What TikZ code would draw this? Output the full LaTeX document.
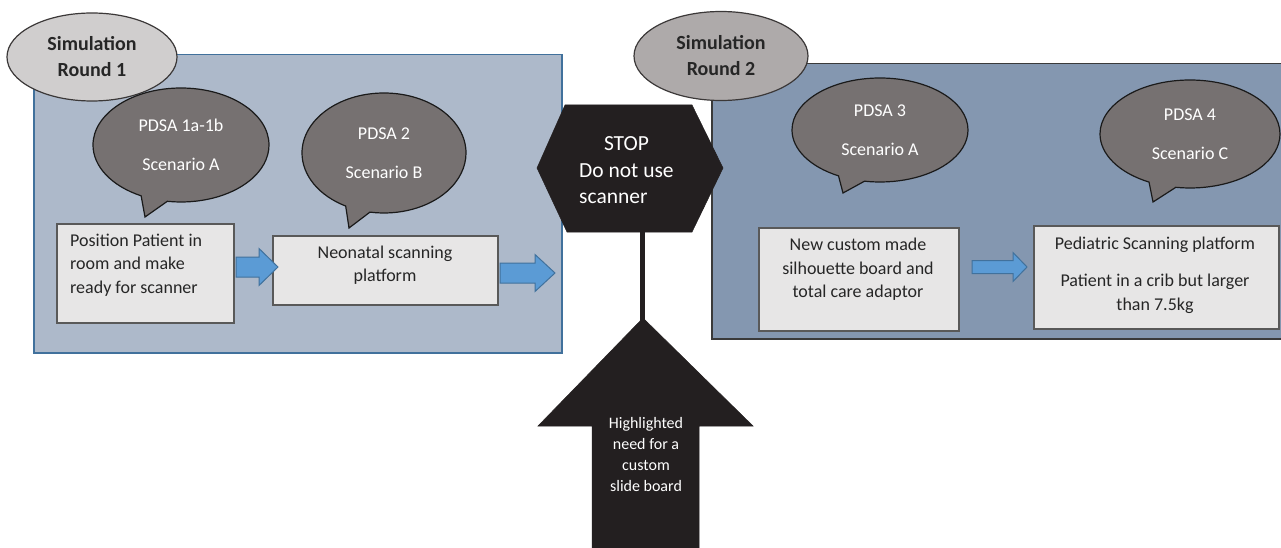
\documentclass[tikz,border=0pt]{standalone}
\usepackage{fontspec}
\setmainfont{Carlito}
\usetikzlibrary{shapes.geometric,shapes.callouts,calc}
\definecolor{panelAfill}{HTML}{ADB9CA}
\definecolor{panelAline}{HTML}{41719C}
\definecolor{panelBfill}{HTML}{8497B0}
\definecolor{panelBline}{HTML}{3A3A3A}
\definecolor{roundAfill}{HTML}{D0CECE}
\definecolor{roundBfill}{HTML}{AEAAAA}
\definecolor{roundline}{HTML}{3B3838}
\definecolor{bubblefill}{HTML}{767171}
\definecolor{bubbleline}{HTML}{1A1A1A}
\definecolor{boxfill}{HTML}{E7E6E6}
\definecolor{boxline}{HTML}{595959}
\definecolor{arrfill}{HTML}{5B9BD5}
\definecolor{arrline}{HTML}{41719C}
\definecolor{stopblack}{HTML}{231F20}
\definecolor{darktext}{HTML}{262626}
\newcommand\blockarr[5]{%
  \draw[bluearrow] let \p1=(#1), \p2=(#2) in
    (\x1,\y1+#3) -- (\x2-#5,\y1+#3) -- (\x2-#5,\y1+#4) -- (\x2,\y1)
    -- (\x2-#5,\y1-#4) -- (\x2-#5,\y1-#3) -- (\x1,\y1-#3) -- cycle;}
\tikzset{
  panelA/.style={rectangle, fill=panelAfill, draw=panelAline, line width=1.5pt, inner sep=0pt},
  panelB/.style={rectangle, fill=panelBfill, draw=panelBline, line width=1.5pt, inner sep=0pt},
  roundtitle/.style={ellipse, draw=roundline, line width=1.2pt, inner sep=0pt, align=center,
    text=darktext, font=\bfseries\fontsize{20}{26}\selectfont},
  bubble/.style={ellipse callout, fill=bubblefill, draw=bubbleline, line width=1.2pt, inner sep=0pt,
    callout pointer arc=18, align=center, text=white, font=\fontsize{18}{22}\selectfont},
  boxnode/.style={rectangle, fill=boxfill, draw=boxline, line width=1.5pt, inner sep=0pt},
  boxtext/.style={inner sep=0pt, text=darktext, font=\fontsize{18}{23.5}\selectfont},
  bluearrow/.style={fill=arrfill, draw=arrline, line width=1pt},
  blackshape/.style={fill=stopblack, draw=stopblack, line width=0.5pt},
  whitetext/.style={inner sep=0pt, text=white},
  pole/.style={draw=stopblack, line width=5pt}
}
\begin{document}
\begin{tikzpicture}[x=1pt,y=-1pt]
\useasboundingbox[fill=white] (0,0) rectangle (1281,548);

% panels
\node[panelA, anchor=north west, minimum width=528pt, minimum height=298pt] (p1) at (33,54) {};
\node[panelB, anchor=north west, minimum width=590pt, minimum height=275pt] (p2) at (711,63) {};

% round titles
\node[roundtitle, fill=roundAfill, minimum width=170pt, minimum height=88pt] (r1) at (92,57) {Simulation\\Round 1};
\node[roundtitle, fill=roundBfill, minimum width=174pt, minimum height=89pt] (r2) at (721,56) {Simulation\\Round 2};

% speech bubbles
\node[bubble, minimum width=176pt, minimum height=114pt, callout absolute pointer={(145,217)}] (b1) at (181,145) {PDSA 1a-1b\\[17pt]Scenario A};
\node[bubble, minimum width=164pt, minimum height=120pt, callout absolute pointer={(349,228)}] (b2) at (384,153) {PDSA 2\\[17pt]Scenario B};
\node[bubble, minimum width=176pt, minimum height=104pt, callout absolute pointer={(843,193)}] (b3) at (880,130) {PDSA 3\\[17pt]Scenario A};
\node[bubble, minimum width=180pt, minimum height=108pt, callout absolute pointer={(1153,202)}] (b4) at (1190,134) {PDSA 4\\[17pt]Scenario C};

% boxes
\node[boxnode, anchor=north west, minimum width=177pt, minimum height=99pt] (box1) at (56,223) {};
\node[boxtext, align=left, anchor=west] (t1) at (70,265) {Position Patient in\\room and make\\ready for scanner};
\node[boxnode, anchor=north west, minimum width=225pt, minimum height=69pt] (box2) at (272,235) {};
\node[boxtext, align=center] (t2) at (385,265) {Neonatal scanning\\platform};
\node[boxnode, anchor=north west, minimum width=200pt, minimum height=103pt] (box3) at (758,227) {};
\node[boxtext, align=center] (t3) at (858,269.5) {New custom made\\silhouette board and\\total care adaptor};
\node[boxnode, anchor=north west, minimum width=245pt, minimum height=103pt] (box4) at (1033,225) {};
\node[boxtext, align=center] (t4) at (1155,275) {Pediatric Scanning platform\\[14pt]Patient in a crib but larger\\than 7.5kg};

% blue block arrows
\coordinate (a1s) at (236,267); \coordinate (a1e) at (278,267);
\blockarr{a1s}{a1e}{10pt}{18.5pt}{19pt}
\coordinate (a2s) at (500,273); \coordinate (a2e) at (555,273);
\blockarr{a2s}{a2e}{10pt}{18.5pt}{20pt}
\coordinate (a3s) at (972,267); \coordinate (a3e) at (1027,267);
\blockarr{a3s}{a3e}{6.5pt}{14.5pt}{14pt}

% stop sign
\draw[blackshape] (565,105) -- (692,105) -- (723,168) -- (692,232) -- (567,232) -- (537,168) -- cycle;
\node[whitetext, anchor=west, font=\fontsize{21.5}{26.5}\selectfont] (stop) at (579,172)
  {\begin{tabular}{@{}l@{}}\multicolumn{1}{@{}c@{}}{STOP}\\Do not use\\scanner\end{tabular}};

% pole and up arrow
\coordinate (poletop) at (642,232);
\coordinate (uptip) at (643,318);
\draw[pole] (poletop) -- (642,322);
\draw[blackshape] (uptip) -- (753,426) -- (699,426) -- (699,560) -- (592,560) -- (592,426) -- (538,426) -- cycle;
\node[whitetext, align=center, font=\fontsize{16}{21}\selectfont] (need) at (646,454)
  {Highlighted\\need for a\\custom\\slide board};
\end{tikzpicture}
\end{document}
